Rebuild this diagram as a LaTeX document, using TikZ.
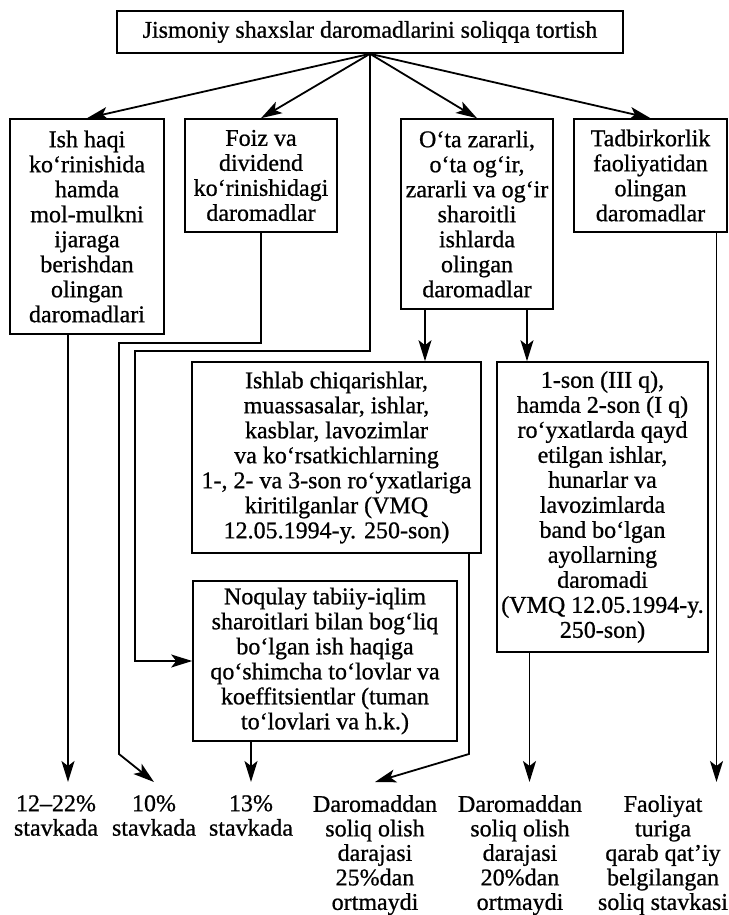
\documentclass[tikz,border=0pt]{standalone}
\usepackage{fontspec}
\setmainfont{Liberation Serif}[FakeBold=0.8]
\usetikzlibrary{arrows.meta}
\tikzset{
  box/.style={draw, rectangle, line width=1.6pt, align=center, inner sep=0pt,
    font=\fontsize{24}{25}\selectfont
  },
  res/.style={align=center, inner xsep=0pt, inner ysep=13pt, anchor=north,
    font=\fontsize{24}{24.5}\selectfont
  },
  arr/.style={-{Stealth[length=21pt,width=13pt,inset=5pt]}, line width=1.8pt
  }
}

\begin{document}
\begin{tikzpicture}[x=1pt,y=-1pt]
  \useasboundingbox (0,0) rectangle (728,915);

  \node[box, minimum width=506pt, minimum height=42pt] (title) at (370,32)
    {Jismoniy shaxslar daromadlarini soliqqa tortish};

  \node[box, minimum width=154pt, minimum height=215pt] (b1) at (87,226.5)
    {Ish haqi\\ko‘rinishida\\hamda\\mol-mulkni\\ijaraga\\berishdan\\olingan\\daromadlari};
  \node[box, minimum width=152pt, minimum height=113pt] (b2) at (261,175.5)
    {Foiz va\\dividend\\ko‘rinishidagi\\daromadlar};
  \node[box, minimum width=152pt, minimum height=190pt] (b3) at (477,214)
    {O‘ta zararli,\\o‘ta og‘ir,\\zararli va og‘ir\\sharoitli\\ishlarda\\olingan\\daromadlar};
  \node[box, minimum width=153pt, minimum height=113pt] (b4) at (650.5,175.5)
    {Tadbirkorlik\\faoliyatidan\\olingan\\daromadlar};

  \node[box, minimum width=289pt, minimum height=191pt] (b5) at (336.5,457.5)
    {Ishlab chiqarishlar,\\muassasalar, ishlar,\\kasblar, lavozimlar\\va ko‘rsatkichlarning\\1-, 2- va 3-son ro‘yxatlariga\\kiritilganlar (VMQ\\12.05.1994-y. 250-son)};
  \node[box, minimum width=211pt, minimum height=290pt] (b6) at (602.5,507)
    {1-son (III q),\\hamda 2-son (I q)\\ro‘yxatlarda qayd\\etilgan ishlar,\\hunarlar va\\lavozimlarda\\band bo‘lgan\\ayollarning\\daromadi\\(VMQ 12.05.1994-y.\\250-son)};
  \node[box, minimum width=264pt, minimum height=160pt] (b7) at (325,661)
    {Noqulay tabiiy-iqlim\\sharoitlari bilan bog‘liq\\bo‘lgan ish haqiga\\qo‘shimcha to‘lovlar va\\koeffitsientlar (tuman\\to‘lovlari va h.k.)};

  \node[res] (r1) at (56,782) {12–22\%\\stavkada};
  \node[res] (r2) at (154,782) {10\%\\stavkada};
  \node[res] (r3) at (251,782) {13\%\\stavkada};
  \node[res] (r4) at (375,782) {Daromaddan\\soliq olish\\darajasi\\25\%dan\\ortmaydi};
  \node[res] (r5) at (520,782) {Daromaddan\\soliq olish\\darajasi\\20\%dan\\ortmaydi};
  \node[res] (r6) at (663,782) {Faoliyat\\turiga\\qarab qat’iy\\belgilangan\\soliq stavkasi};

  \coordinate (c1) at (135,351);
  \coordinate (c2) at (119,343);
  \coordinate (c3) at (119,754);
  \coordinate (c4) at (469,754);

  \draw[arr] (title.south) -- (b1.north);
  \draw[arr] (title.south) -- (b2.north);
  \draw[arr] (title.south) -- (b3.north);
  \draw[arr] (title.south) -- (b4.north);
  \draw[arr] (title.south) |- (c1) |- (b7.west);

  \draw[arr] ([xshift=-19pt]b1.south) -- ([xshift=-19pt]b1.south |- r1.north);
  \draw[arr] (b2.south) |- (c2) -- (c3) -- (r2.north);
  \draw[arr] ([xshift=-52pt]b3.south) -- ([xshift=-52pt]b3.south |- b5.north);
  \draw[arr] ([xshift=50pt]b3.south) -- ([xshift=50pt]b3.south |- b6.north);
  \draw[arr] ([xshift=66pt]b4.south) -- ([xshift=66pt]b4.south |- r6.north);
  \draw[arr] (b5.south -| c4) -- (c4) -- (r4.north);
  \draw[arr] ([xshift=-73pt]b6.south) -- ([xshift=-73pt]b6.south |- r5.north);
  \draw[arr] (b7.south -| r3) -- (r3.north);
\end{tikzpicture}
\end{document}
